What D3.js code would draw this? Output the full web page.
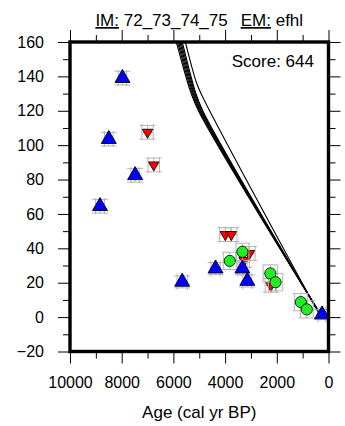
<!DOCTYPE html>
<html><head><meta charset="utf-8">
<script src="https://cdn.jsdelivr.net/npm/d3@7/dist/d3.min.js"></script>
<style>body{margin:0;background:#fff}svg{display:block}text{font-family:"Liberation Sans",Arial,Helvetica,sans-serif;fill:#000}</style>
</head><body><div id="chart"></div>
<script>
// ---- data ----
const xTicksMajor = [10000, 8000, 6000, 4000, 2000, 0];
const xTicksMinor = [9000, 7000, 5000, 3000, 1000];
const yTicksMajor = [-20, 0, 20, 40, 60, 80, 100, 120, 140, 160];
const yTicksMinor = [-10, 10, 30, 50, 70, 90, 110, 130, 150];

// model curves (age, height)
const modelAges = [
  [6180, 5890, 5335, 5015, 250],
  [6130, 5840, 5295, 4975, 250],
  [6080, 5795, 5257, 4944, 250],
  [6030, 5750, 5220, 4910, 250],
  [5980, 5705, 5183, 4876, 250],
  [5940, 5660, 5150, 4845, 250],
  [5815, 5540, 5100, 4800, 300]
];
const modelHeights = [
  [175, 160, 131, 119.5, 0],
  [175, 160, 131, 119.5, 0],
  [175, 160, 131, 119.5, 0],
  [175, 160, 131, 119.5, 0],
  [175, 160, 131, 119.5, 0],
  [175, 160, 131, 119.5, 0],
  [175, 160, 136, 126, 0]
];

// index points: blue (up triangles)
const blueAge = [7970, 8500, 7480, 8840, 5660, 4370, 3330, 3140, 250];
const blueH   = [139, 103.5, 82.5, 64.5, 20.5, 28.2, 28.2, 21, 1.5];
const blueEx  = [160, 170, 160, 170, 200, 180, 180, 170, 150];
const blueEy  = [4, 4, 4, 4, 3.5, 3.5, 3.5, 3.5, 3];
// limiting (down triangles, red)
const redAge = [7000, 6760, 3990, 3760, 3060, 3260, 2230];
const redH   = [107.5, 88.5, 48, 48, 37, 33, 18.5];
const redEx  = [220, 220, 220, 220, 220, 200, 220];
const redEy  = [4, 4, 4, 4, 4, 4, 4];
// green circles
const greenAge = [3820, 3330, 2250, 2050, 1070, 840];
const greenH   = [32.7, 38, 25.4, 20.3, 8.7, 4.5];
const greenEx  = [250, 250, 280, 280, 250, 250];
const greenEy  = [5, 5, 5, 5, 5, 5];

const scoreText = "Score: 644";
const xLabel = "Age (cal yr BP)";

// ---- drawing ----
const W = 345, H = 426;
const L = 70, R = 328.5, T = 42, B = 351.5;
const svg = d3.select("#chart").append("svg").attr("width", W).attr("height", H);
const x = d3.scaleLinear().domain([10000, 0]).range([L, R]);
const y = d3.scaleLinear().domain([-20, 160]).range([B, T]);

svg.append("defs").append("clipPath").attr("id", "clip")
  .append("rect").attr("x", L).attr("y", T).attr("width", R - L).attr("height", B - T);

const plot = svg.append("g").attr("clip-path", "url(#clip)");

// model lines
const line = d3.line().x(d => x(d[0])).y(d => y(d[1])).curve(d3.curveCatmullRom.alpha(0.5));
modelAges.forEach((ages, i) => {
  const pts = ages.map((a, j) => [a, modelHeights[i][j]]);
  plot.append("path").attr("d", line(pts)).attr("fill", "none")
    .attr("stroke", "#000").attr("stroke-width", 1.1);
});

const cap = 8;
function errbars(ages, hs, exs, eys) {
  const g = plot.append("g").attr("stroke", "#b4b4b4").attr("stroke-width", 1).attr("fill", "none");
  ages.forEach((a, i) => {
    const cx = x(a), cy = y(hs[i]);
    const x0 = x(a + exs[i]), x1 = x(a - exs[i]);
    const y0 = y(hs[i] + eys[i]), y1 = y(hs[i] - eys[i]);
    g.append("line").attr("x1", x0).attr("x2", x1).attr("y1", cy).attr("y2", cy);
    g.append("line").attr("x1", cx).attr("x2", cx).attr("y1", y0).attr("y2", y1);
    [x0, x1].forEach(xx => g.append("line").attr("x1", xx).attr("x2", xx).attr("y1", cy - cap).attr("y2", cy + cap));
    [y0, y1].forEach(yy => g.append("line").attr("x1", cx - cap).attr("x2", cx + cap).attr("y1", yy).attr("y2", yy));
  });
}

const triUp = d3.symbol().type(d3.symbolTriangle).size(Math.sqrt(3) / 4 * 15 * 15);
const triDown = d3.symbol().type(d3.symbolTriangle).size(Math.sqrt(3) / 4 * 10.5 * 10.5);
const circ = d3.symbol().type(d3.symbolCircle).size(Math.PI * 5.6 * 5.6);

// red
errbars(redAge, redH, redEx, redEy);
redAge.forEach((a, i) => plot.append("path").attr("d", triDown())
  .attr("transform", `translate(${x(a)},${y(redH[i])}) rotate(180)`)
  .attr("fill", "#ff0000").attr("stroke", "#000").attr("stroke-width", 0.8));
// green
errbars(greenAge, greenH, greenEx, greenEy);
greenAge.forEach((a, i) => plot.append("path").attr("d", circ())
  .attr("transform", `translate(${x(a)},${y(greenH[i])})`)
  .attr("fill", "#22ee22").attr("stroke", "#000").attr("stroke-width", 0.8));
// blue
errbars(blueAge, blueH, blueEx, blueEy);
blueAge.forEach((a, i) => plot.append("path").attr("d", triUp())
  .attr("transform", `translate(${x(a)},${y(blueH[i])})`)
  .attr("fill", "#0000ff").attr("stroke", "#000").attr("stroke-width", 0.9));

// axes
const fmt = d3.format("d");
function styleAxis(g) { g.select(".domain").remove(); g.selectAll("line").attr("stroke", "#000").attr("stroke-width", 1); g.selectAll("text").style("font-size", "16px").style("font-family", "'Liberation Sans',Arial,sans-serif"); }
svg.append("g").attr("transform", `translate(0,${B})`).call(d3.axisBottom(x).tickValues(xTicksMajor).tickFormat(fmt).tickSize(12).tickPadding(13)).call(styleAxis);
svg.append("g").attr("transform", `translate(0,${B})`).call(d3.axisBottom(x).tickValues(xTicksMinor).tickFormat("").tickSize(7)).call(styleAxis);
svg.append("g").attr("transform", `translate(0,${T})`).call(d3.axisTop(x).tickValues(xTicksMajor).tickFormat("").tickSize(12)).call(styleAxis);
svg.append("g").attr("transform", `translate(0,${T})`).call(d3.axisTop(x).tickValues(xTicksMinor).tickFormat("").tickSize(7)).call(styleAxis);
svg.append("g").attr("transform", `translate(${L},0)`).call(d3.axisLeft(y).tickValues(yTicksMajor).tickFormat(d3.format("")).tickSize(12).tickPadding(14)).call(styleAxis);
svg.append("g").attr("transform", `translate(${L},0)`).call(d3.axisLeft(y).tickValues(yTicksMinor).tickFormat("").tickSize(7)).call(styleAxis);
svg.append("g").attr("transform", `translate(${R},0)`).call(d3.axisRight(y).tickValues(yTicksMajor).tickFormat("").tickSize(12)).call(styleAxis);
svg.append("g").attr("transform", `translate(${R},0)`).call(d3.axisRight(y).tickValues(yTicksMinor).tickFormat("").tickSize(7)).call(styleAxis);

// frame
svg.append("rect").attr("x", L).attr("y", T).attr("width", R - L).attr("height", B - T)
  .attr("fill", "none").attr("stroke", "#000").attr("stroke-width", 3.4);

// title
const title = svg.append("text").attr("x", (L + R) / 2).attr("y", 26).attr("text-anchor", "middle").style("font-size", "17px");
title.append("tspan").attr("text-decoration", "underline").text("IM:");
title.append("tspan").text(" 72_73_74_75");
title.append("tspan").attr("dx", 13).attr("text-decoration", "underline").text("EM:");
title.append("tspan").text(" efhl");

svg.append("text").attr("x", 314).attr("y", 67).attr("text-anchor", "end").style("font-size", "17px").text(scoreText);
svg.append("text").attr("x", (L + R) / 2).attr("y", 418).attr("text-anchor", "middle").style("font-size", "17px").text(xLabel);
</script></body></html>
